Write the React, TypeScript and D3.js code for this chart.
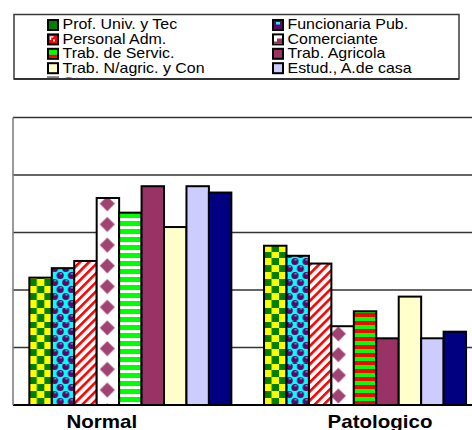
import React from "react";
import * as d3 from "d3";

const categories = ["Normal", "Patologico"];
const seriesNames = [
  "Prof. Univ. y Tec",
  "Funcionaria Pub.",
  "Personal Adm.",
  "Comerciante",
  "Trab. de Servic.",
  "Trab. Agricola",
  "Trab. N/agric. y Con",
  "Estud., A.de casa",
  "Otros",
];
const normalValues = [44.3, 47.6, 50.1, 72.0, 66.9, 76.1, 61.9, 76.1, 73.9];
const patologicoValues = [55.4, 51.9, 49.2, 27.4, 32.6, 23.2, 37.7, 23.2, 25.5];
const yTicks = [0, 20, 40, 60, 80, 100];
const legendOrder = [0, 1, 2, 3, 4, 5, 6, 7, 8];

const W = 472;
const H = 430;
const plot = { left: 13, top: 117.5, bottom: 405, right: 482.4 };
const FONT = "Arial, 'Liberation Sans', sans-serif";

const purple = "#660066";
const plum = "#993366";

function BarPattern({ id, si, gi, x, bottom }: any) {
  if (si === 0) {
    const cw = 7.5, ch = 7;
    return (
      <pattern id={id} patternUnits="userSpaceOnUse" x={x} y={bottom} width={cw * 2} height={ch * 2}>
        <rect width={cw * 2} height={ch * 2} fill="#FFFF00" />
        <rect x={0} y={0} width={cw} height={ch} fill="#008000" />
        <rect x={cw} y={ch} width={cw} height={ch} fill="#008000" />
      </pattern>
    );
  }
  if (si === 1) {
    const tw = 11.2, th = 14;
    const r = 3.5;
    const pts = [
      [tw / 4, th / 4],
      [(3 * tw) / 4, (3 * th) / 4],
      [(3 * tw) / 4 - tw, (3 * th) / 4],
      [tw / 4 + tw, th / 4],
      [tw / 4, th / 4 + th],
      [(3 * tw) / 4, (3 * th) / 4 - th],
    ];
    return (
      <pattern id={id} patternUnits="userSpaceOnUse" x={x} y={bottom} width={tw} height={th}>
        <rect width={tw} height={th} fill="#00FFFF" />
        {pts.map(([cx, cy], k) => (
          <g key={k}>
            <circle cx={cx} cy={cy} r={r} fill={purple} />
            <rect x={cx - 0.5} y={cy - 2.2} width={2.2} height={1.1} fill="#00FFFF" />
          </g>
        ))}
      </pattern>
    );
  }
  if (si === 2) {
    return (
      <pattern id={id} patternUnits="userSpaceOnUse" x={x} y={bottom} width={6.4} height={6.4} patternTransform="rotate(45)">
        <rect width={6.4} height={6.4} fill="#FFFFFF" />
        <rect x={0} y={0} width={2.6} height={6.4} fill="#FF0000" />
      </pattern>
    );
  }
  if (si === 3) {
    const dx = [10.6, 7][gi];
    const dy = [15, 9][gi];
    const th = 20.7;
    const cy = th - (dy % th);
    return (
      <pattern id={id} patternUnits="userSpaceOnUse" x={x} y={bottom} width={24} height={th}>
        <rect width={24} height={th} fill="#FFFFFF" />
        {[cy - th, cy, cy + th].map((c, k) => (
          <path key={k} d={`M${dx},${c - 7.5} L${dx + 7.5},${c} L${dx},${c + 7.5} L${dx - 7.5},${c} Z`} fill={plum} opacity={0.92} />
        ))}
      </pattern>
    );
  }
  if (si === 4) {
    const bg = gi === 0 ? "#FFFFFF" : "#FF0000";
    const gh = gi === 0 ? 5 : 4;
    return (
      <pattern id={id} patternUnits="userSpaceOnUse" x={x} y={bottom} width={8} height={8}>
        <rect width={8} height={8} fill={bg} />
        <rect x={0} y={0} width={8} height={gh} fill="#00FF00" />
      </pattern>
    );
  }
  return null;
}

const solidFill = ["", "", "", "", "", plum, "#FFFFCC", "#CCCCFF", "#000080"];

function Swatch({ si, x, y }: any) {
  const s = 12;
  const i = 2;
  const iw = s - 2 * i;
  const ix = x + i, iy = y + i;
  let inner: any = null;
  switch (si) {
    case 0:
      inner = <rect x={ix} y={iy} width={iw} height={iw} fill="#008000" />;
      break;
    case 1:
      inner = (
        <g>
          <rect x={ix} y={iy} width={iw} height={iw} fill={purple} />
          <rect x={ix + 2} y={iy + 1} width={4} height={2.5} fill="#00FFFF" />
        </g>
      );
      break;
    case 2:
      inner = (
        <g>
          <rect x={ix} y={iy} width={iw} height={iw} fill="#FF0000" />
          <path d={`M${ix + 4.5},${iy + 1.5} L${ix + 1.5},${iy + 1.5} L${ix + 1.5},${iy + 4.5}`} stroke="#FFFFFF" strokeWidth={1.4} fill="none" />
          <rect x={ix + 4} y={iy + 4} width={2} height={2} fill="#FFFFFF" />
        </g>
      );
      break;
    case 3:
      inner = (
        <g>
          <rect x={ix} y={iy} width={iw} height={iw} fill="#FFFFFF" />
          <path d={`M${ix + 3},${iy + 3} L${ix + iw},${iy + 3} L${ix + iw},${iy + iw} L${ix},${iy + iw} L${ix},${iy + 6} L${ix + 3},${iy + 6} Z`} fill={plum} />
        </g>
      );
      break;
    case 4:
      inner = (
        <g>
          <rect x={ix} y={iy} width={iw} height={iw} fill="#00FF00" />
          <rect x={ix} y={iy + 5} width={iw} height={iw - 5} fill="#FF0000" />
        </g>
      );
      break;
    default:
      inner = <rect x={ix} y={iy} width={iw} height={iw} fill={solidFill[si]} />;
  }
  return (
    <g>
      <rect x={x} y={y} width={s} height={s} fill="#000000" />
      {inner}
    </g>
  );
}

export default function App() {
  const values = [normalValues, patologicoValues];
  const x0 = d3.scaleBand<string>().domain(categories).range([plot.left, plot.right]).padding(0);
  const bw = x0.bandwidth();
  const gap = bw * 0.1393;
  const x1 = d3
    .scaleBand<string>()
    .domain(seriesNames)
    .range([gap / 2, bw - gap / 2])
    .padding(0);
  const y = d3.scaleLinear().domain([0, 100]).range([plot.bottom, plot.top]);

  const bars: any[] = [];
  categories.forEach((c, gi) => {
    seriesNames.forEach((s, si) => {
      const bx = (x0(c) as number) + (x1(s) as number);
      const v = values[gi][si];
      bars.push({ gi, si, x: bx, w: x1.bandwidth(), y: y(v), h: y(0) - y(v), id: `p-${si}-${gi}` });
    });
  });

  const labelShift = [-28.6, 15];
  const legend = { x: 14, y: 14.5, w: 445, h: 64.5, rowH: 14.4, col: [47, 272], textDx: 15.5, top: 19 };

  return (
    <svg width={W} height={H} style={{ position: "absolute", left: 0, top: 0, background: "#fff" }} fontFamily={FONT}>
      <defs>
        {bars.map((b) => (
          <BarPattern key={b.id} id={b.id} si={b.si} gi={b.gi} x={b.x} bottom={plot.bottom} />
        ))}
        <clipPath id="legclip">
          <rect x={legend.x} y={legend.y} width={legend.w} height={legend.h - 1.5} />
        </clipPath>
      </defs>
      <rect width={W} height={H} fill="#FFFFFF" />

      {/* legend */}
      <g clipPath="url(#legclip)">
        {legendOrder.map((si, k) => {
          const col = k % 2;
          const row = Math.floor(k / 2);
          const sx = legend.col[col];
          const sy = legend.top + row * legend.rowH;
          return (
            <g key={si}>
              <Swatch si={si} x={sx} y={sy} />
              <text transform={`translate(${sx + legend.textDx},${sy + 10.3}) scale(1.14,1)`} fontSize={14} fill="#000">
                {seriesNames[si]}
              </text>
            </g>
          );
        })}
      </g>
      <rect x={legend.x} y={legend.y} width={legend.w} height={legend.h} fill="none" stroke="#3a3a3a" strokeWidth={1.5} />
      <line x1={legend.x} x2={legend.x + legend.w} y1={legend.y + legend.h} y2={legend.y + legend.h} stroke="#333" strokeWidth={2} />

      {/* gridlines */}
      {yTicks.slice(1).map((t) => (
        <line key={t} x1={plot.left} x2={W} y1={y(t)} y2={y(t)} stroke="#333" strokeWidth={1.4} />
      ))}

      {/* bars */}
      {bars.map((b) => (
        <rect
          key={b.id}
          x={b.x}
          y={b.y}
          width={b.w}
          height={b.h}
          fill={b.si <= 4 ? `url(#${b.id})` : solidFill[b.si]}
          stroke="#000"
          strokeWidth={2}
        />
      ))}

      {/* axes */}
      <line x1={plot.left} x2={W} y1={plot.bottom} y2={plot.bottom} stroke="#000" strokeWidth={2} />
      <line x1={plot.left} x2={plot.left} y1={plot.top} y2={plot.bottom} stroke="#808080" strokeWidth={1.6} />

      {/* category labels */}
      {categories.map((c, gi) => (
        <text
          key={c}
          transform={`translate(${(x0(c) as number) + bw / 2 + labelShift[gi]},428) scale(1.14,1)`}
          textAnchor="middle"
          fontSize={18}
          fontWeight="bold"
          fill="#000"
        >
          {c}
        </text>
      ))}
    </svg>
  );
}
